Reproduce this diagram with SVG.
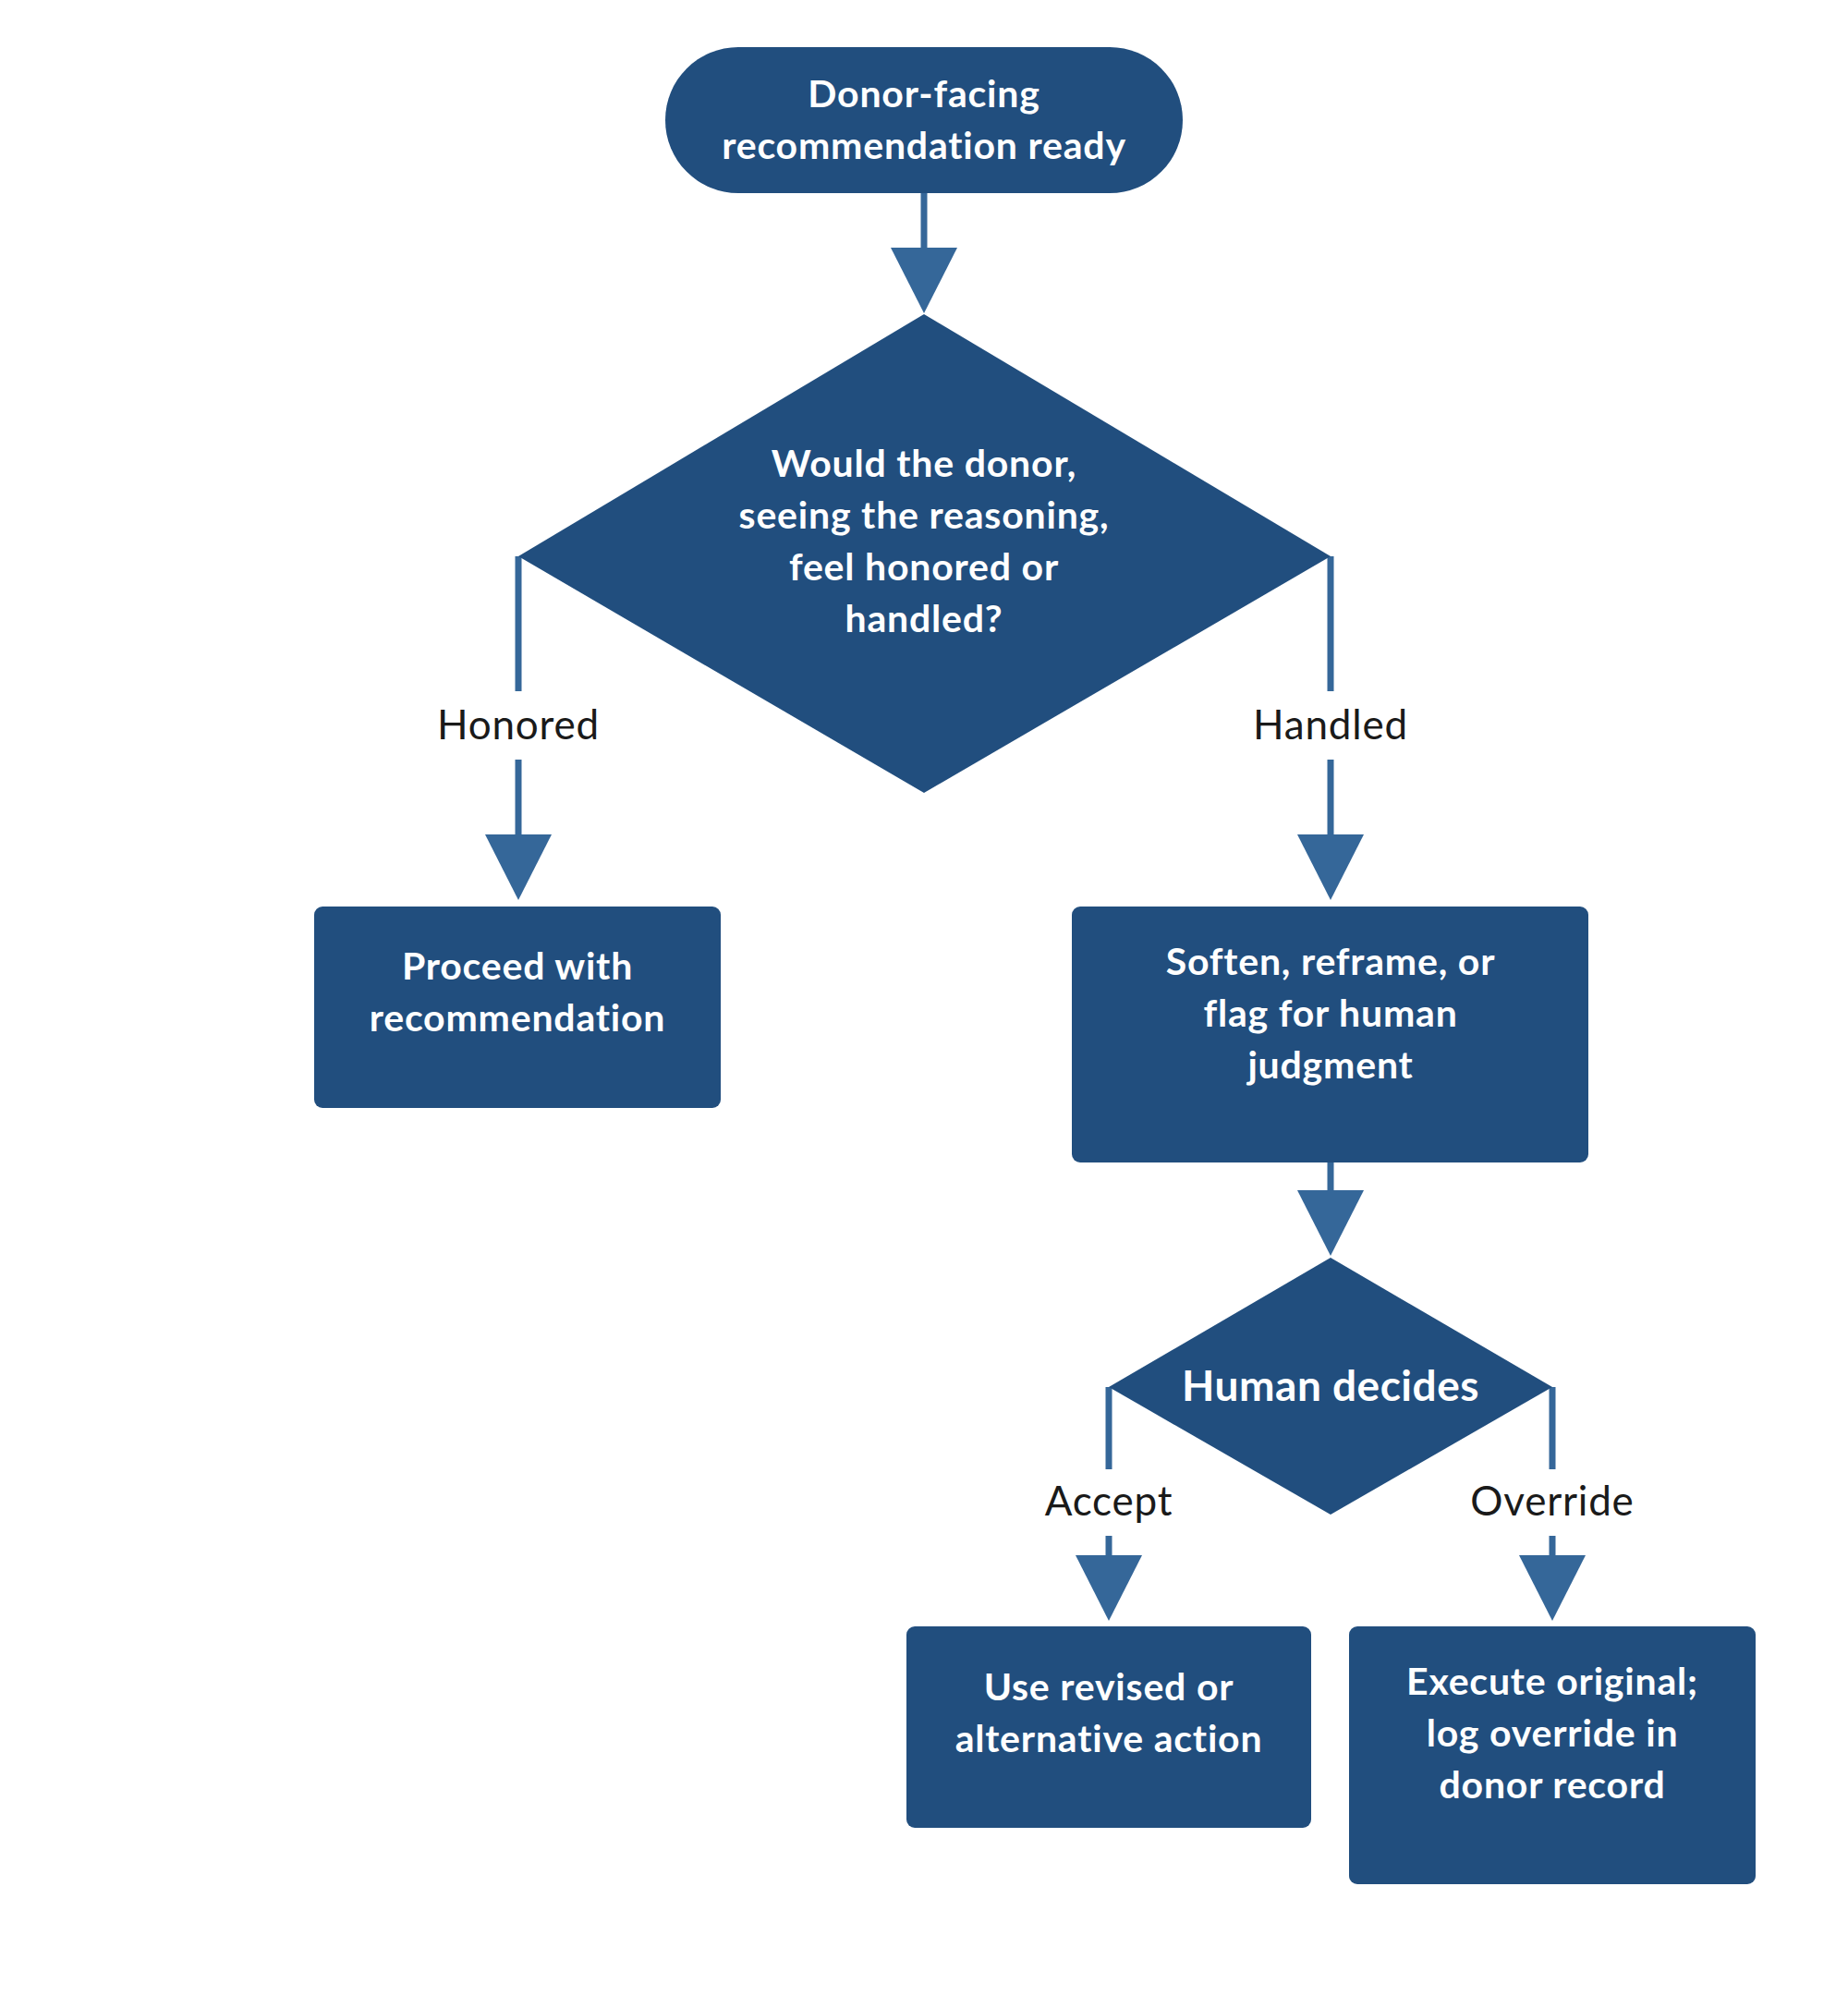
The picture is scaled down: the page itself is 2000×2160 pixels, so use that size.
<svg xmlns="http://www.w3.org/2000/svg" width="2000" height="2160" viewBox="0 0 2000 2160">
  <style>
    .node { fill: #214E7E; }
    .ntext { fill: #FFFFFF; font-family: Lato, "Open Sans", sans-serif; font-weight: bold; font-size: 41px; letter-spacing: 0.8px; text-anchor: middle; }
    .big { font-size: 46px; letter-spacing: 0.5px; }
    .conn { stroke: #356799; stroke-width: 7; fill: none; }
    .label { fill: #1A1A1A; font-family: Lato, "Open Sans", sans-serif; font-size: 44px; letter-spacing: 0.8px; text-anchor: middle; }
  </style>
  <defs>
    <marker id="arrow" markerUnits="userSpaceOnUse" viewBox="0 -36 71 72" refX="0" refY="0" markerWidth="71" markerHeight="72" orient="auto">
      <path d="M0,-36 L71,0 L0,36 Z" fill="#356799"/>
    </marker>
  </defs>
  <rect width="2000" height="2160" fill="#FFFFFF"/>

  <g id="connectors">
    <path class="conn" d="M1000,209 V268" marker-end="url(#arrow)"/>
    <path class="conn" d="M561,602 V748"/>
    <path class="conn" d="M561,822 V903" marker-end="url(#arrow)"/>
    <path class="conn" d="M1440,602 V748"/>
    <path class="conn" d="M1440,822 V903" marker-end="url(#arrow)"/>
    <path class="conn" d="M1440,1258 V1288" marker-end="url(#arrow)"/>
    <path class="conn" d="M1200,1501 V1590"/>
    <path class="conn" d="M1200,1662 V1683" marker-end="url(#arrow)"/>
    <path class="conn" d="M1680,1501 V1590"/>
    <path class="conn" d="M1680,1662 V1683" marker-end="url(#arrow)"/>
    <text class="label" x="561" y="800">Honored</text>
    <text class="label" x="1440" y="800">Handled</text>
    <text class="label" x="1200" y="1640">Accept</text>
    <text class="label" x="1680" y="1640">Override</text>
  </g>

  <g id="start">
    <rect class="node" x="720" y="51" width="560" height="158" rx="79" ry="79"/>
    <text class="ntext" x="1000" y="116">Donor-facing</text>
    <text class="ntext" x="1000" y="172">recommendation ready</text>
  </g>

  <g id="decision1">
    <polygon class="node" points="1000,340 1440,602 1000,858 561,602"/>
    <text class="ntext" x="1000" y="516">Would the donor,</text>
    <text class="ntext" x="1000" y="572">seeing the reasoning,</text>
    <text class="ntext" x="1000" y="628">feel honored or</text>
    <text class="ntext" x="1000" y="684">handled?</text>
  </g>

  <g id="proceed">
    <rect class="node" x="340" y="981" width="440" height="218" rx="9" ry="9"/>
    <text class="ntext" x="560" y="1060">Proceed with</text>
    <text class="ntext" x="560" y="1116">recommendation</text>
  </g>

  <g id="soften">
    <rect class="node" x="1160" y="981" width="559" height="277" rx="9" ry="9"/>
    <text class="ntext" x="1440" y="1055">Soften, reframe, or</text>
    <text class="ntext" x="1440" y="1111">flag for human</text>
    <text class="ntext" x="1440" y="1167">judgment</text>
  </g>

  <g id="decision2">
    <polygon class="node" points="1440,1361 1680,1501 1440,1639 1200,1501"/>
    <text class="ntext big" x="1440" y="1516">Human decides</text>
  </g>

  <g id="accept">
    <rect class="node" x="981" y="1760" width="438" height="218" rx="9" ry="9"/>
    <text class="ntext" x="1200" y="1840">Use revised or</text>
    <text class="ntext" x="1200" y="1896">alternative action</text>
  </g>

  <g id="override">
    <rect class="node" x="1460" y="1760" width="440" height="279" rx="9" ry="9"/>
    <text class="ntext" x="1680" y="1834">Execute original;</text>
    <text class="ntext" x="1680" y="1890">log override in</text>
    <text class="ntext" x="1680" y="1946">donor record</text>
  </g>
</svg>
